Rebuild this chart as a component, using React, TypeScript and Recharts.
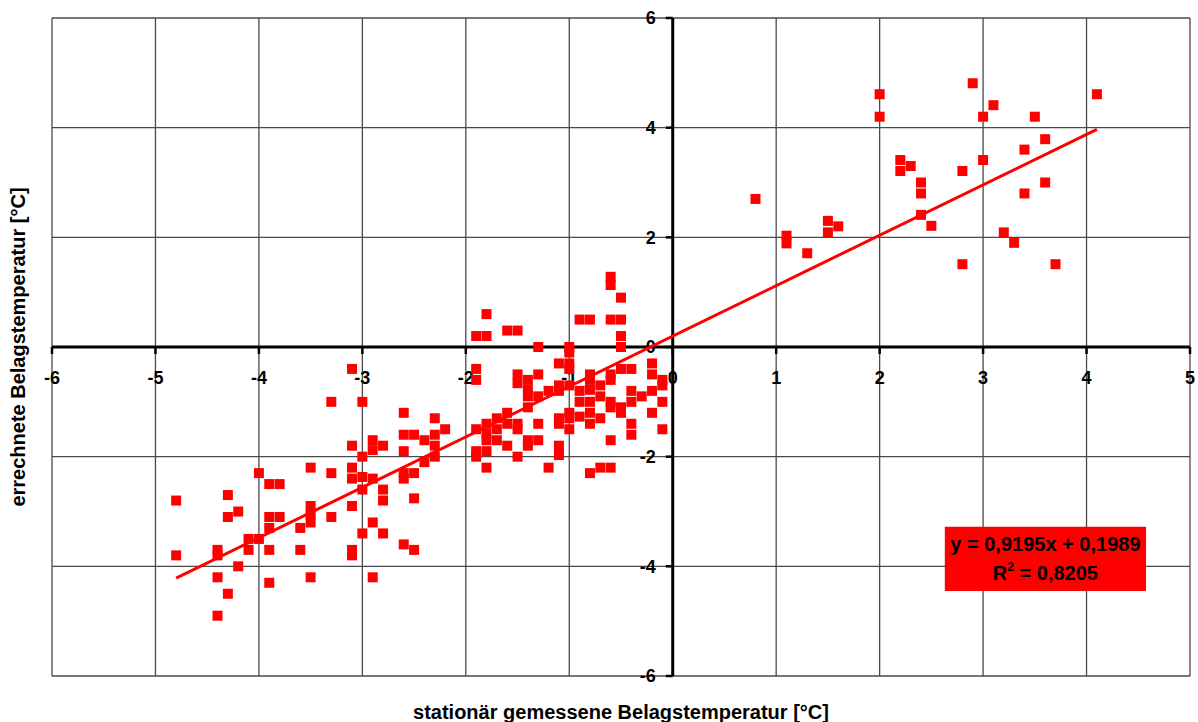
import React from 'react';
import { ScatterChart, Scatter, XAxis, YAxis, CartesianGrid, ReferenceLine, ReferenceArea, ReferenceDot } from 'recharts';

const W = 1198;
const H = 722;
const M = { top: 18, right: 8, bottom: 46, left: 52 };
const PLOT_W = W - M.left - M.right;
const PLOT_H = H - M.top - M.bottom;
const X_MIN = -6, X_MAX = 5, Y_MIN = -6, Y_MAX = 6;

const xTicks = [-6, -5, -4, -3, -2, -1, 0, 1, 2, 3, 4, 5];
const yTicks = [-6, -4, -2, 0, 2, 4, 6];

const xTitle = 'stationär gemessene Belagstemperatur [°C]';
const yTitle = 'errechnete Belagstemperatur [°C]';

const slope = 0.9195;
const intercept = 0.1989;
const rSquared = '0,8205';
const trendRange = [-4.8, 4.1];

const leftCluster: [number, number][] = [
  [-4.8, -2.8], [-4.8, -3.8],
  [-4.4, -3.7], [-4.4, -3.8], [-4.4, -4.2], [-4.4, -4.9],
  [-4.3, -2.7], [-4.3, -3.1], [-4.3, -4.5],
  [-4.2, -3.0], [-4.2, -4.0],
  [-4.1, -3.5], [-4.1, -3.7],
  [-4.0, -2.3], [-4.0, -3.5],
  [-3.9, -2.5], [-3.9, -3.1], [-3.9, -3.3], [-3.9, -3.7], [-3.9, -4.3],
  [-3.8, -2.5], [-3.8, -3.1],
  [-3.6, -3.3], [-3.6, -3.7],
  [-3.5, -2.2], [-3.5, -2.9], [-3.5, -3.05], [-3.5, -3.2], [-3.5, -4.2],
  [-3.3, -1.0], [-3.3, -2.3], [-3.3, -3.1],
  [-3.1, -0.4], [-3.1, -1.8], [-3.1, -2.2], [-3.1, -2.4], [-3.1, -2.9], [-3.1, -3.7], [-3.1, -3.8],
  [-3.0, -1.0], [-3.0, -2.0], [-3.0, -2.37], [-3.0, -2.6], [-3.0, -3.4],
  [-2.9, -1.7], [-2.9, -1.88], [-2.9, -2.4], [-2.9, -3.2], [-2.9, -4.2],
  [-2.8, -1.8], [-2.8, -2.6], [-2.8, -2.8], [-2.8, -3.4],
  [-2.6, -1.2], [-2.6, -1.6], [-2.6, -1.9], [-2.6, -2.3], [-2.6, -2.4], [-2.6, -3.6],
  [-2.5, -1.6], [-2.5, -2.3], [-2.5, -2.76], [-2.5, -3.7],
  [-2.4, -1.7], [-2.4, -2.1],
  [-2.3, -1.3], [-2.3, -1.6], [-2.3, -1.8], [-2.3, -2.0],
  [-2.2, -1.5],
];

const middleCluster: [number, number][] = [
  [-1.9, 0.2], [-1.8, 0.2], [-1.8, 0.6],
  [-1.6, 0.3], [-1.5, 0.3],
  [-1.3, 0.0], [-1.0, 0.0], [-1.0, -0.1],
  [-0.9, 0.5], [-0.8, 0.5], [-0.6, 0.5], [-0.5, 0.5],
  [-0.6, 1.28], [-0.6, 1.13], [-0.5, 0.9], [-0.5, 0.2], [-0.5, 0.0],
  [-1.9, -0.4], [-1.9, -0.6],
  [-1.5, -0.5], [-1.5, -0.66],
  [-1.4, -0.6], [-1.4, -0.78], [-1.4, -0.9], [-1.4, -1.1],
  [-1.3, -0.5], [-1.3, -0.9],
  [-1.2, -0.8],
  [-1.1, -0.3], [-1.1, -0.7], [-1.1, -0.8],
  [-1.0, -0.3], [-1.0, -0.4], [-1.0, -0.7],
  [-0.9, -0.8], [-0.9, -1.0], [-0.9, -1.27],
  [-0.8, -0.5], [-0.8, -0.6], [-0.8, -0.78], [-0.8, -1.0], [-0.8, -1.2], [-0.8, -1.4],
  [-0.7, -0.7], [-0.7, -0.9], [-0.7, -1.3],
  [-0.6, -0.5], [-0.6, -0.6], [-0.6, -1.0], [-0.6, -1.1], [-0.6, -1.7], [-0.6, -2.2],
  [-0.5, -0.4], [-0.5, -1.1], [-0.5, -1.2],
  [-0.4, -0.4], [-0.4, -0.8], [-0.4, -1.0], [-0.4, -1.4], [-0.4, -1.6],
  [-0.3, -0.9],
  [-0.2, -0.3], [-0.2, -0.5], [-0.2, -0.8], [-0.2, -1.2],
  [-0.1, -0.6], [-0.1, -0.7], [-0.1, -1.0], [-0.1, -1.5],
  [-0.8, -2.3], [-0.7, -2.2],
  [-1.9, -1.5], [-1.9, -1.9], [-1.9, -2.0],
  [-1.8, -1.4], [-1.8, -1.58], [-1.8, -1.7], [-1.8, -1.9], [-1.8, -2.2],
  [-1.7, -1.3], [-1.7, -1.5], [-1.7, -1.7],
  [-1.6, -1.2], [-1.6, -1.4], [-1.6, -1.8],
  [-1.5, -1.4], [-1.5, -1.5], [-1.5, -2.0],
  [-1.4, -1.7], [-1.4, -1.8],
  [-1.3, -1.4], [-1.3, -1.7],
  [-1.2, -2.2],
  [-1.1, -1.3], [-1.1, -1.4], [-1.1, -1.8], [-1.1, -1.97],
  [-1.0, -1.2], [-1.0, -1.3], [-1.0, -1.5],
];

const rightCluster: [number, number][] = [
  [0.8, 2.7], [1.1, 2.03], [1.1, 1.89], [1.3, 1.71], [1.5, 2.3], [1.5, 2.09], [1.6, 2.2],
  [2.0, 4.61], [2.0, 4.2], [2.2, 3.41], [2.2, 3.21], [2.3, 3.3],
  [2.4, 3.0], [2.4, 2.8], [2.4, 2.41], [2.5, 2.21],
  [2.9, 4.81], [3.1, 4.41], [3.0, 4.2], [3.5, 4.2], [4.1, 4.61],
  [3.6, 3.79], [3.4, 3.6], [3.0, 3.41], [2.8, 3.21], [3.6, 3.0], [3.4, 2.8],
  [3.2, 2.09], [3.3, 1.9], [2.8, 1.51], [3.7, 1.51],
];

const points = [...leftCluster, ...middleCluster, ...rightCluster].map(([x, y]) => ({ x, y }));
const trendData = trendRange.map((x) => ({ x, y: slope * x + intercept }));

const FONT = '"Liberation Sans", Arial, sans-serif';

const Square = (props: any) => {
  const { cx, cy } = props;
  if (cx == null || cy == null) return <g />;
  return <rect x={cx - 5} y={cy - 5} width={10} height={10} fill="#ff0000" />;
};

const EmptyTick = () => <g />;

const makeXTick = (value: number) => (props: any) => {
  const { cx, cy } = props;
  if (cx == null || cy == null) return <g />;
  return (
    <g>
      <line x1={cx} x2={cx} y1={cy} y2={cy + 7} stroke="#000" strokeWidth={2.5} />
      <text x={cx} y={cy + 37} textAnchor="middle" fontFamily={FONT} fontWeight="bold" fontSize={18} fill="#000">
        {value}
      </text>
    </g>
  );
};

const makeYTick = (value: number) => (props: any) => {
  const { cx, cy } = props;
  if (cx == null || cy == null) return <g />;
  return (
    <g>
      <line x1={cx - 7} x2={cx} y1={cy} y2={cy} stroke="#000" strokeWidth={2.5} />
      <text x={cx - 17} y={cy} dy="0.36em" textAnchor="end" fontFamily={FONT} fontWeight="bold" fontSize={18} fill="#000">
        {value}
      </text>
    </g>
  );
};

const BoxLabel = (props: any) => {
  const vb = props.viewBox || {};
  const cx = vb.x + vb.width / 2;
  return (
    <g>
      <text x={cx} y={vb.y + 24} textAnchor="middle" fontFamily={FONT} fontWeight="bold" fontSize={20} fill="#000">
        {`y = ${String(slope).replace('.', ',')}x + ${String(intercept).replace('.', ',')}`}
      </text>
      <text x={cx} y={vb.y + 53} textAnchor="middle" fontFamily={FONT} fontWeight="bold" fontSize={20} fill="#000">
        R<tspan fontSize={12} dy={-9}>2</tspan>
        <tspan dy={9}>{` = ${rSquared}`}</tspan>
      </text>
    </g>
  );
};

export default function App() {
  return (
    <div style={{ position: 'absolute', left: 0, top: 0, width: W, height: H, background: '#fff' }}>
      <ScatterChart width={W} height={H} margin={M}>
        <CartesianGrid stroke="#4a4a4a" strokeWidth={1.3} />
        <XAxis
          type="number"
          dataKey="x"
          domain={[X_MIN, X_MAX]}
          ticks={xTicks}
          interval={0}
          height={0}
          axisLine={false}
          tickLine={false}
          tick={<EmptyTick />}
          allowDataOverflow
        />
        <YAxis
          type="number"
          dataKey="y"
          domain={[Y_MIN, Y_MAX]}
          ticks={yTicks}
          interval={0}
          width={0}
          axisLine={false}
          tickLine={false}
          tick={<EmptyTick />}
          allowDataOverflow
        />
        <ReferenceLine y={0} stroke="#000" strokeWidth={3} />
        <ReferenceLine x={0} stroke="#000" strokeWidth={3} />
        {xTicks.map((v) => (
          <ReferenceDot key={`xt${v}`} x={v} y={0} r={1} shape={makeXTick(v)} ifOverflow="visible" />
        ))}
        {yTicks.map((v) => (
          <ReferenceDot key={`yt${v}`} x={0} y={v} r={1} shape={makeYTick(v)} ifOverflow="visible" />
        ))}
        <ReferenceArea
          x1={2.63}
          x2={4.575}
          y1={-4.45}
          y2={-3.28}
          fill="#ff0000"
          fillOpacity={1}
          stroke="none"
          label={(p: any) => <BoxLabel {...p} />}
        />
        <Scatter data={points} shape={<Square />} isAnimationActive={false} />
        <Scatter
          data={trendData}
          line={{ stroke: '#ff0000', strokeWidth: 3 }}
          shape={() => <g />}
          isAnimationActive={false}
        />
      </ScatterChart>
      <div
        style={{
          position: 'absolute',
          left: M.left,
          width: PLOT_W,
          top: 700,
          textAlign: 'center',
          fontFamily: FONT,
          fontWeight: 'bold',
          fontSize: 20,
          lineHeight: '24px',
          color: '#000',
        }}
      >
        {xTitle}
      </div>
      <div
        style={{
          position: 'absolute',
          left: 18 - 250,
          top: M.top + PLOT_H / 2 - 12,
          width: 500,
          textAlign: 'center',
          transform: 'rotate(-90deg)',
          fontFamily: FONT,
          fontWeight: 'bold',
          fontSize: 20,
          lineHeight: '24px',
          color: '#000',
        }}
      >
        {yTitle}
      </div>
    </div>
  );
}
